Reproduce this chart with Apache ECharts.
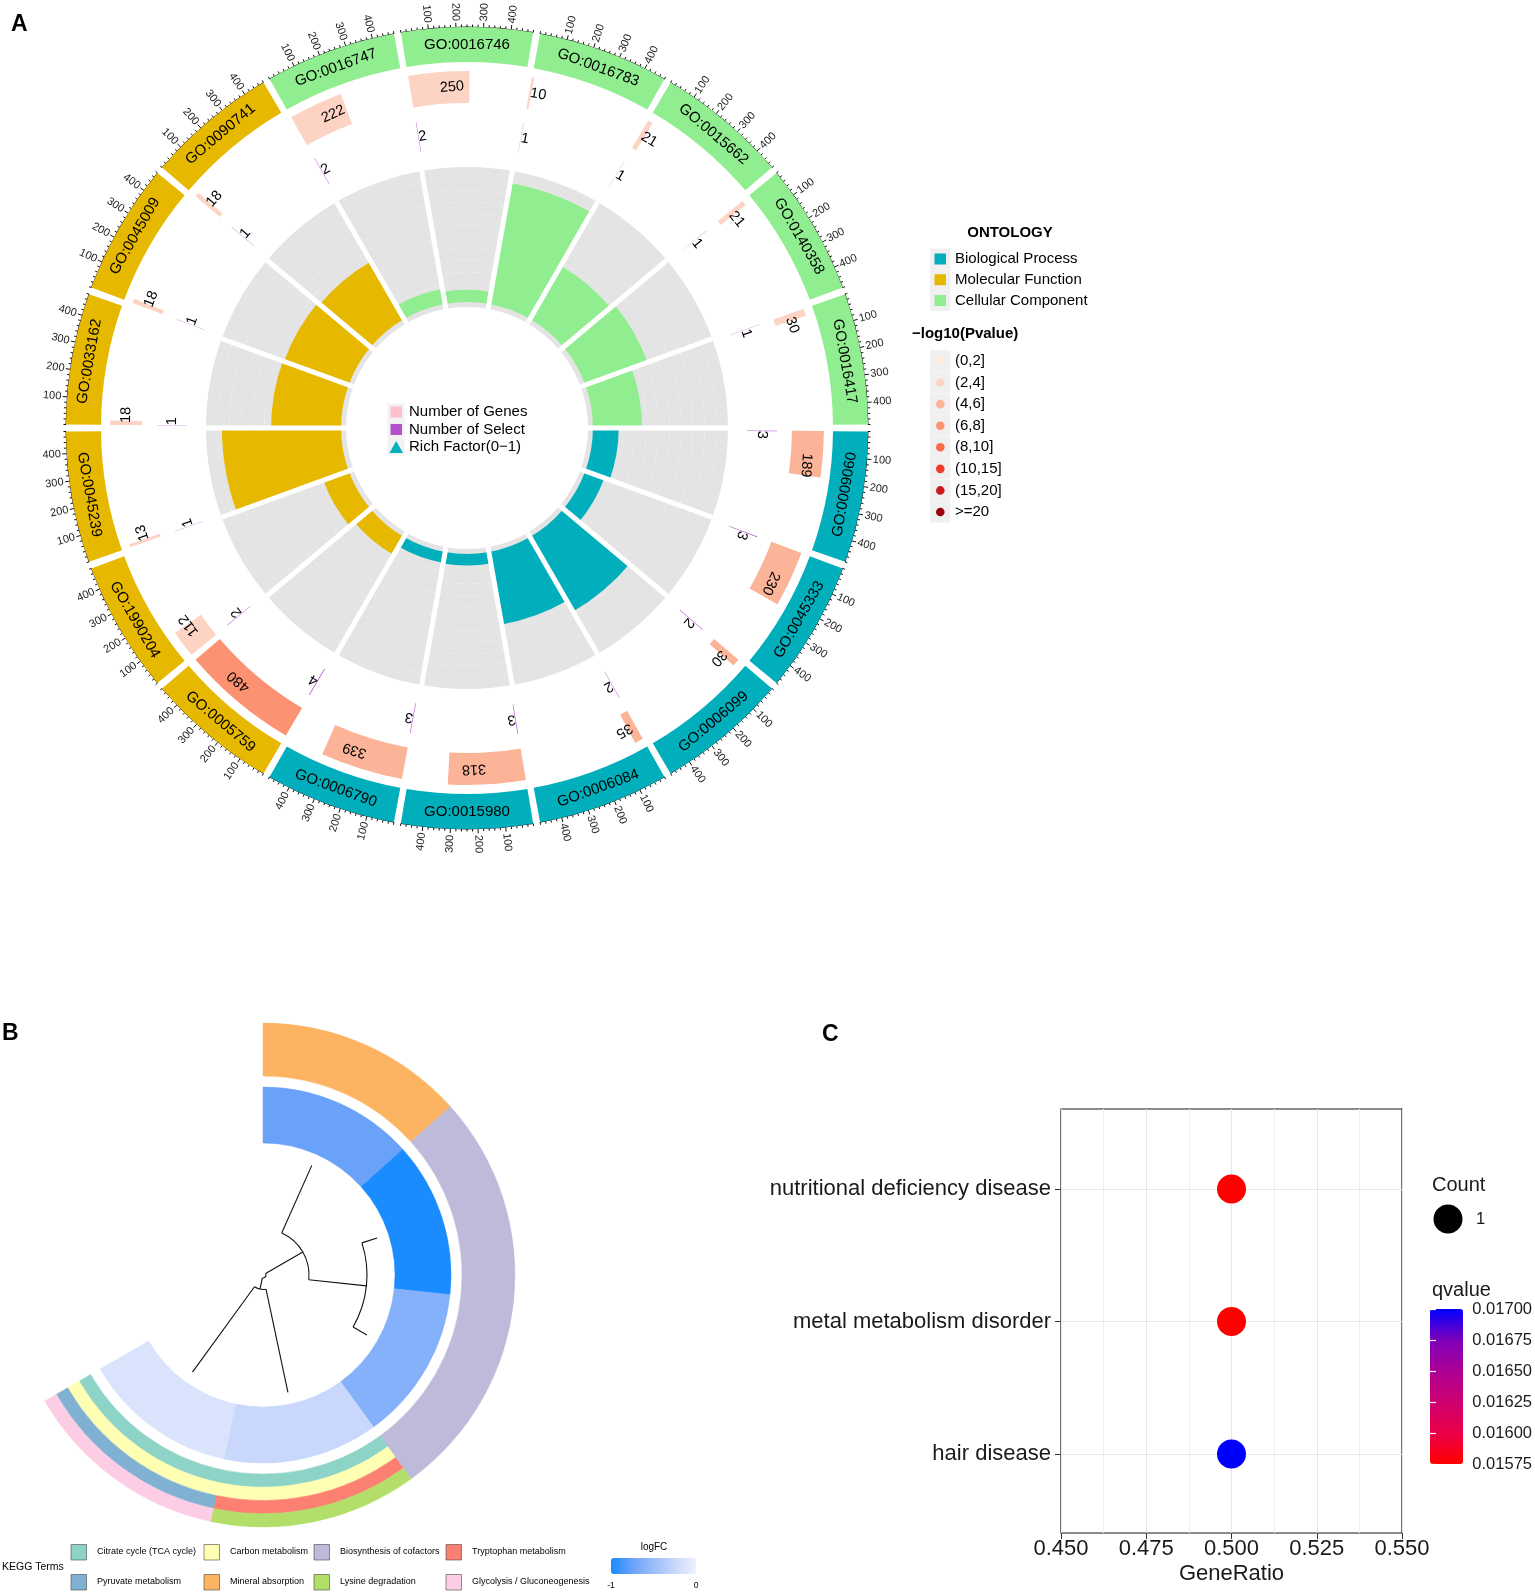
<!DOCTYPE html>
<html><head><meta charset="utf-8">
<script src="https://cdn.jsdelivr.net/npm/echarts@6/dist/echarts.min.js"></script>
<style>html,body{margin:0;padding:0;background:#fff}#c{width:1535px;height:1592px}</style>
</head><body><div id="c"></div>
<script>
// ================= DATA =================
// Panel A – GO circle
const goTerms = ['GO:0016746','GO:0016783','GO:0015662','GO:0140358','GO:0016417','GO:0009060','GO:0045333','GO:0006099','GO:0006084','GO:0015980','GO:0006790','GO:0005759','GO:1990204','GO:0045239','GO:0033162','GO:0045009','GO:0090741','GO:0016747'];
const goOntology = ['CC','CC','CC','CC','CC','BP','BP','BP','BP','BP','BP','MF','MF','MF','MF','MF','MF','CC'];
const geneNumbers = [250,10,21,21,30,189,230,30,35,318,339,480,112,13,18,18,18,222];
const selectNumbers = [2,1,1,1,1,3,3,2,2,3,3,4,2,1,1,1,1,2];
const richFactor = [0.10,1.00,0.50,0.54,0.40,0.21,0.165,0.70,0.60,0.095,0.09,0.17,0.22,0.97,0.57,0.56,0.54,0.125];
const pvalueClass = [1,1,1,1,1,2,2,2,2,2,2,3,1,1,1,1,1,1];
const pvalueLabels = ['(0,2]','(2,4]','(4,6]','(6,8]','(8,10]','(10,15]','(15,20]','>=20'];
const axisTicksA = [100,200,300,400];
const ontologyNames = [['Biological Process','BP'],['Molecular Function','MF'],['Cellular Component','CC']];

// Panel B – KEGG cluster
const geneLogFC = [-0.75,-1.0,-0.62,-0.25,-0.14];
const geneTerms = [
  ['Mineral absorption'],
  ['Biosynthesis of cofactors'],
  ['Biosynthesis of cofactors'],
  ['Citrate cycle (TCA cycle)','Carbon metabolism','Tryptophan metabolism','Lysine degradation'],
  ['Citrate cycle (TCA cycle)','Carbon metabolism','Pyruvate metabolism','Glycolysis / Gluconeogenesis']
];
const keggTerms = ['Citrate cycle (TCA cycle)','Pyruvate metabolism','Carbon metabolism','Mineral absorption','Biosynthesis of cofactors','Lysine degradation','Tryptophan metabolism','Glycolysis / Gluconeogenesis'];
// hclust-style merges: positive = leaf (1-based), negative = earlier merge; third = height
const dendroMerges = [[2,3,16],[1,-1,74],[4,5,105.5],[-2,-3,117]];

// Panel C – disease enrichment
const cTerms = ['hair disease','metal metabolism disorder','nutritional deficiency disease'];
const cGeneRatio = [0.5,0.5,0.5];
const cQvalue = [0.01700,0.01575,0.01575];
const cCount = [1,1,1];

// ================= STYLE =================
const FONT = '"Liberation Sans", Arial, sans-serif';
const ontColor = {BP:'#00AFBB', MF:'#E7B800', CC:'#90EE90'};
const pvalueColors = ['#FEEBE2','#FDD4C4','#FCB499','#FC9272','#FB6A4A','#EF3B2C','#CB181D','#99000D'];
const keggColors = {'Citrate cycle (TCA cycle)':'#8DD3C7','Pyruvate metabolism':'#80B1D3','Carbon metabolism':'#FFFFB3','Mineral absorption':'#FDB462','Biosynthesis of cofactors':'#BEBADA','Lysine degradation':'#B3DE69','Tryptophan metabolism':'#FB8072','Glycolysis / Gluconeogenesis':'#FCCDE5'};
const logFCColors = ['#1A8CFF','#6AA2FA','#9DBDFA','#C8D7FB','#EEF2FE'];
const qColors = ['#FF0000','#EA0048','#CE0070','#AC0094','#7E00BA','#0000FF'];
const C_A = [467,428], C_B = [263,1275];
const SECTOR_DEG = 20, GAP_DEG = 1, SECTOR_MAX = 480;
const R_SEL = [280,310], R_GENE = [325,357], R_BLOCK = [366,401], R_AXIS = 401;
const B_INNER = [132,188], B_OUTER = [199,252];

function toAngle(i, v){ return i*SECTOR_DEG - (SECTOR_DEG-GAP_DEG)/2 + v*(SECTOR_DEG-GAP_DEG)/SECTOR_MAX; }
function font(size, weight){ return (weight?weight+' ':'') + size + 'px ' + FONT; }
function txt(x, y, text, o){
  o = o || {};
  const el = {type:'text', x:x, y:y, silent:true, style:{text:text, fill:o.fill||'#000', font:o.font||font(15),
    textAlign:o.align||'left', textVerticalAlign:o.va||'middle', align:o.align||'left', verticalAlign:o.va||'middle'}};
  if (o.rotation != null) el.rotation = o.rotation;
  return el;
}
function sectorShape(params, api, r0v, r1v, a0v, a1v){
  const cx = params.coordSys.cx, cy = params.coordSys.cy;
  const pA = api.coord([r1v, a0v]), pB = api.coord([r1v, a1v]), pC = api.coord([r0v, a0v]);
  const r = Math.hypot(pA[0]-cx, pA[1]-cy), r0 = Math.hypot(pC[0]-cx, pC[1]-cy);
  let s = Math.atan2(pA[1]-cy, pA[0]-cx), e = Math.atan2(pB[1]-cy, pB[0]-cx);
  while (e < s - 1e-9) e += Math.PI*2;
  if (e < s) e = s;
  return {cx:cx, cy:cy, r0:r0, r:r, startAngle:s, endAngle:e, clockwise:true};
}

// ---------- Panel A renderers ----------
function goLabelRender(params, api){
  const cx = params.coordSys.cx, cy = params.coordSys.cy;
  const i = api.value(0);
  const p = api.coord([(R_BLOCK[0]+R_BLOCK[1])/2, toAngle(i, SECTOR_MAX/2)]);
  const phi = Math.atan2(p[1]-cy, p[0]-cx);
  const bottom = p[1] > cy + 0.5;
  return txt(p[0], p[1], goTerms[i], {font:font(15), align:'center', rotation:-phi-Math.PI/2+(bottom?Math.PI:0)});
}
function axisRender(params, api){
  const cx = params.coordSys.cx, cy = params.coordSys.cy;
  const i = api.value(0);
  const ch = [];
  const sh = sectorShape(params, api, R_AXIS, R_AXIS, toAngle(i,0), toAngle(i,SECTOR_MAX));
  ch.push({type:'arc', silent:true, shape:{cx:cx, cy:cy, r:sh.r, startAngle:sh.startAngle, endAngle:sh.endAngle, clockwise:true}, style:{stroke:'#111', lineWidth:1, fill:null}});
  for (let v = 0; v <= SECTOR_MAX; v += 20){
    const major = axisTicksA.indexOf(v) >= 0;
    const a = toAngle(i, v);
    const p0 = api.coord([R_AXIS, a]), p1 = api.coord([R_AXIS + (major?4.5:2.5), a]);
    ch.push({type:'line', silent:true, shape:{x1:p0[0], y1:p0[1], x2:p1[0], y2:p1[1]}, style:{stroke:'#111', lineWidth:1}});
  }
  axisTicksA.forEach(function(v){
    const p = api.coord([R_AXIS + 6, toAngle(i, v)]);
    const phi = Math.atan2(p[1]-cy, p[0]-cx);
    const right = p[0] >= cx;
    ch.push(txt(p[0], p[1], String(v), {font:font(11), fill:'#222', align:right?'left':'right', rotation:right?-phi:-phi+Math.PI}));
  });
  return {type:'group', children:ch};
}
function ringBarRender(radii, colorFn, fontSize){
  return function(params, api){
    const cx = params.coordSys.cx, cy = params.coordSys.cy;
    const i = api.value(0), v = api.value(1);
    const sh = sectorShape(params, api, radii[0], radii[1], toAngle(i,0), toAngle(i,v));
    const p = api.coord([(radii[0]+radii[1])/2, toAngle(i, v/2)]);
    const phi = Math.atan2(p[1]-cy, p[0]-cx);
    return {type:'group', children:[
      {type:'sector', silent:true, shape:sh, style:{fill:colorFn(api)}},
      txt(p[0], p[1], String(v), {font:font(fontSize), align:'left', rotation:-phi-Math.PI/2})
    ]};
  };
}

// ---------- Panel B renderers ----------
const outerRows = [];
geneTerms.forEach(function(terms, g){
  terms.forEach(function(t, k){ outerRows.push([g, k, terms.length, keggTerms.indexOf(t)]); });
});
const dendroRows = (function(){
  const pos = [], hgt = [], rows = [];
  function child(c){ return c > 0 ? [c - 0.5, 0] : [pos[-c-1], hgt[-c-1]]; }
  dendroMerges.forEach(function(m){
    const L = child(m[0]), R = child(m[1]);
    pos.push((L[0]+R[0])/2); hgt.push(m[2]);
    rows.push([L[0], R[0], m[2], L[1], R[1]]);
  });
  return rows;
})();
function dendroRender(params, api){
  const cx = params.coordSys.cx, cy = params.coordSys.cy;
  const aL = api.value(0), aR = api.value(1), h = api.value(2), hL = api.value(3), hR = api.value(4);
  const pm = api.coord([h, aL]);
  const r = Math.hypot(pm[0]-cx, pm[1]-cy);
  const qL = api.coord([0, aL]), qR = api.coord([0, aR]);
  let s = Math.atan2(qL[1]-cy, qL[0]-cx), e = Math.atan2(qR[1]-cy, qR[0]-cx);
  while (e < s) e += Math.PI*2;
  const a1 = api.coord([hL, aL]), a2 = api.coord([h, aL]), b1 = api.coord([hR, aR]), b2 = api.coord([h, aR]);
  const st = {stroke:'#111', lineWidth:1.1, fill:null};
  return {type:'group', children:[
    {type:'arc', silent:true, shape:{cx:cx, cy:cy, r:r, startAngle:s, endAngle:e, clockwise:true}, style:st},
    {type:'line', silent:true, shape:{x1:a1[0], y1:a1[1], x2:a2[0], y2:a2[1]}, style:st},
    {type:'line', silent:true, shape:{x1:b1[0], y1:b1[1], x2:b2[0], y2:b2[1]}, style:st}
  ]};
}

// ---------- Graphic legends ----------
const G = [];
G.push(txt(11, 25, 'A', {font:font(23,'bold')}));
G.push(txt(2, 1034, 'B', {font:font(23,'bold')}));
G.push(txt(822, 1035, 'C', {font:font(23,'bold')}));
// Panel A right legend
G.push(txt(1010, 233, 'ONTOLOGY', {font:font(15,'bold'), align:'center'}));
ontologyNames.forEach(function(o, k){
  const y = 259 + k*20.75;
  G.push({type:'rect', silent:true, shape:{x:930, y:y-10.4, width:20.5, height:20.75}, style:{fill:'#F0F0F0'}});
  G.push({type:'rect', silent:true, shape:{x:934.5, y:y-5.5, width:11.5, height:11}, style:{fill:ontColor[o[1]]}});
  G.push(txt(955, y, o[0], {font:font(15)}));
});
G.push(txt(912, 334, '\u2212log10(Pvalue)', {font:font(15,'bold')}));
pvalueLabels.forEach(function(l, k){
  const y = 361 + k*21.57;
  G.push({type:'rect', silent:true, shape:{x:930, y:y-10.6, width:20.5, height:21.2}, style:{fill:'#F0F0F0'}});
  G.push({type:'circle', silent:true, shape:{cx:940.3, cy:y, r:4.3}, style:{fill:pvalueColors[k]}});
  G.push(txt(955, y, l, {font:font(15)}));
});
// Panel A center legend
[['Number of Genes','#FFC0CB','rect'],['Number of Select','#B452CD','rect'],['Rich Factor(0\u22121)','#00AFBB','tri']].forEach(function(o, k){
  const y = 412 + k*17.5;
  G.push({type:'rect', silent:true, shape:{x:387.5, y:y-8.6, width:17, height:17.2}, style:{fill:'#F2F2F2'}});
  if (o[2] === 'rect') G.push({type:'rect', silent:true, shape:{x:390.5, y:y-5.5, width:11.5, height:11}, style:{fill:o[1]}});
  else G.push({type:'polygon', silent:true, shape:{points:[[389.5,y+6],[403,y+6],[396.2,y-6]]}, style:{fill:o[1]}});
  G.push(txt(409, y, o[0], {font:font(15)}));
});
// Panel B legend
G.push(txt(2, 1567, 'KEGG Terms', {font:font(10.5)}));
const colX = [71,204,314,446], rowY = [1552,1582];
keggTerms.forEach(function(t, k){
  const c = Math.floor(k/2), r = k % 2;
  G.push({type:'rect', silent:true, shape:{x:colX[c], y:rowY[r]-7.5, width:15.5, height:15.5}, style:{fill:keggColors[t], stroke:'#444', lineWidth:0.6}});
  G.push(txt(colX[c]+26, rowY[r], t, {font:font(9)}));
});
G.push(txt(654, 1547, 'logFC', {font:font(10), align:'center'}));
G.push(txt(611, 1586, '-1', {font:font(8.5), align:'center'}));
G.push(txt(696, 1586, '0', {font:font(8.5), align:'center'}));
// Panel C legends
G.push(txt(1432, 1185, 'Count', {font:font(20), fill:'#1a1a1a'}));
G.push({type:'circle', silent:true, shape:{cx:1448, cy:1219, r:14.5}, style:{fill:'#000'}});
G.push(txt(1476, 1219, String(cCount[0]), {font:font(16.5), fill:'#1a1a1a'}));
G.push(txt(1432, 1290, 'qvalue', {font:font(20), fill:'#1a1a1a'}));

// ================= OPTION =================
const option = {
  animation:false,
  backgroundColor:'#fff',
  polar:[
    {center:C_A, radius:[121,261]},
    {center:C_A, radius:R_BLOCK},
    {center:C_A, radius:[0,401]},
    {center:C_B, radius:[0,252]},
    {center:C_B, radius:[0,120]}
  ],
  angleAxis:[
    {polarIndex:0, type:'category', data:goTerms, startAngle:100, clockwise:true, boundaryGap:true, z:3,
     axisLine:{show:false}, axisTick:{show:false}, axisLabel:{show:false, interval:0},
     splitLine:{show:true, interval:0, lineStyle:{color:'#fff', width:5}}},
    {polarIndex:1, type:'category', data:goTerms, startAngle:100, clockwise:true, show:false},
    {polarIndex:2, type:'value', min:-10, max:350, startAngle:100, clockwise:true, show:false},
    {polarIndex:3, type:'value', min:0, max:7.5, startAngle:90, clockwise:true, show:false},
    {polarIndex:4, type:'value', min:0, max:7.5, startAngle:90, clockwise:true, show:false}
  ],
  radiusAxis:[
    {polarIndex:0, type:'value', min:-0.04, max:1.1, interval:0.095, axisLine:{show:false}, axisTick:{show:false}, axisLabel:{show:false},
     splitLine:{show:true, lineStyle:{color:'rgba(255,255,255,0.55)', width:0.8}},
     splitArea:{show:true, areaStyle:{color:['#E4E4E4','#E4E4E4']}}},
    {polarIndex:1, type:'value', min:0, max:1, show:false},
    {polarIndex:2, type:'value', min:0, max:401, show:false},
    {polarIndex:3, type:'value', min:0, max:252, show:false},
    {polarIndex:4, type:'value', min:0, max:120, inverse:true, show:false}
  ],
  grid:[
    {left:1061, top:1109, width:341, height:424, show:true, borderColor:'#1a1a1a', borderWidth:1.2, backgroundColor:'transparent'},
    {left:1061, top:1189, width:341, height:265},
    {left:1430, top:1309, width:33, height:155}
  ],
  xAxis:[
    {gridIndex:0, type:'value', min:0.45, max:0.55, interval:0.025,
     axisLine:{show:false}, axisTick:{show:true, length:6, lineStyle:{color:'#333'}},
     axisLabel:{fontSize:22, color:'#1a1a1a', margin:5, fontFamily:FONT, formatter:function(v){return v.toFixed(3);}},
     splitLine:{show:true, lineStyle:{color:'#E6E6E6'}},
     minorTick:{show:false, splitNumber:2}, minorSplitLine:{show:true, lineStyle:{color:'#EFEFEF'}},
     name:'GeneRatio', nameLocation:'middle', nameGap:30, nameTextStyle:{fontSize:22, color:'#1a1a1a', fontFamily:FONT}},
    {gridIndex:1, type:'value', min:0.45, max:0.55, show:false},
    {gridIndex:2, type:'value', min:0, max:1, show:false}
  ],
  yAxis:[
    {gridIndex:0, type:'value', min:0, max:1, show:false},
    {gridIndex:1, type:'category', data:cTerms, boundaryGap:false,
     axisLine:{show:false}, axisTick:{show:true, length:6, lineStyle:{color:'#333'}},
     axisLabel:{fontSize:22, color:'#1a1a1a', margin:10, fontFamily:FONT},
     splitLine:{show:true, lineStyle:{color:'#E6E6E6'}}},
    {gridIndex:2, type:'value', position:'right', min:0.01575, max:0.017, interval:0.00025, z:10,
     axisLine:{show:false}, axisTick:{show:true, inside:true, length:6, lineStyle:{color:'#fff', width:1.2}},
     axisLabel:{fontSize:16.5, color:'#1a1a1a', margin:10, fontFamily:FONT, formatter:function(v){return v.toFixed(5);}},
     splitLine:{show:false}},
    {gridIndex:2, type:'value', position:'left', min:0.01575, max:0.017, interval:0.00025, z:10,
     axisLine:{show:false}, axisTick:{show:true, inside:true, length:6, lineStyle:{color:'#fff', width:1.2}},
     axisLabel:{show:false}, splitLine:{show:false}}
  ],
  visualMap:[
    {type:'continuous', seriesIndex:6, dimension:1, min:-1, max:0, orient:'horizontal', left:611, top:1558,
     itemWidth:16, itemHeight:85, padding:0, calculable:false, hoverLink:false, inRange:{color:logFCColors}},
    {type:'continuous', seriesIndex:9, dimension:2, min:0.01575, max:0.017, orient:'vertical', left:1430, top:1309,
     itemWidth:33, itemHeight:155, padding:0, calculable:false, hoverLink:false, inRange:{color:qColors}}
  ],
  graphic:{elements:G},
  series:[
    {type:'bar', coordinateSystem:'polar', polarIndex:0, data:richFactor, barCategoryGap:'0%', silent:true,
     itemStyle:{color:function(p){return ontColor[goOntology[p.dataIndex]];}}},
    {type:'bar', coordinateSystem:'polar', polarIndex:1, data:goTerms.map(function(){return 1;}), barCategoryGap:'5%', silent:true,
     itemStyle:{color:function(p){return ontColor[goOntology[p.dataIndex]];}}},
    {type:'custom', coordinateSystem:'polar', polarIndex:2, silent:true, z:5, data:goTerms.map(function(t,i){return [i,0];}), renderItem:goLabelRender},
    {type:'custom', coordinateSystem:'polar', polarIndex:2, silent:true, data:goTerms.map(function(t,i){return [i,0];}), renderItem:axisRender},
    {type:'custom', coordinateSystem:'polar', polarIndex:2, silent:true, data:geneNumbers.map(function(v,i){return [i,v,pvalueClass[i]];}),
     renderItem:ringBarRender(R_GENE, function(api){return pvalueColors[api.value(2)];}, 14.5)},
    {type:'custom', coordinateSystem:'polar', polarIndex:2, silent:true, data:selectNumbers.map(function(v,i){return [i,v];}),
     renderItem:ringBarRender(R_SEL, function(){return '#B452CD';}, 14.5)},
    {type:'custom', coordinateSystem:'polar', polarIndex:3, silent:true, data:geneLogFC.map(function(v,i){return [i,v];}),
     renderItem:function(params, api){
       const i = api.value(0);
       const c = api.visual('color');
       return {type:'sector', silent:true, shape:sectorShape(params, api, B_INNER[0], B_INNER[1], i, i+1), style:{fill:c, stroke:c, lineWidth:0.5}};
     }},
    {type:'custom', coordinateSystem:'polar', polarIndex:3, silent:true, data:outerRows,
     renderItem:function(params, api){
       const g = api.value(0), k = api.value(1), n = api.value(2), t = api.value(3);
       const w = (B_OUTER[1]-B_OUTER[0])/n;
       const c = keggColors[keggTerms[t]];
       return {type:'sector', silent:true, shape:sectorShape(params, api, B_OUTER[0]+k*w, B_OUTER[0]+(k+1)*w, g, g+1), style:{fill:c, stroke:c, lineWidth:0.5}};
     }},
    {type:'custom', coordinateSystem:'polar', polarIndex:4, silent:true, data:dendroRows, renderItem:dendroRender},
    {type:'scatter', xAxisIndex:1, yAxisIndex:1, clip:false, symbolSize:29, silent:true, itemStyle:{opacity:1},
     data:cTerms.map(function(t,i){return [cGeneRatio[i], t, cQvalue[i], cCount[i]];})}
  ]
};
const chart = echarts.init(document.getElementById('c'), null, {renderer:'canvas', width:1535, height:1592});
chart.setOption(option);
</script>
</body></html>
